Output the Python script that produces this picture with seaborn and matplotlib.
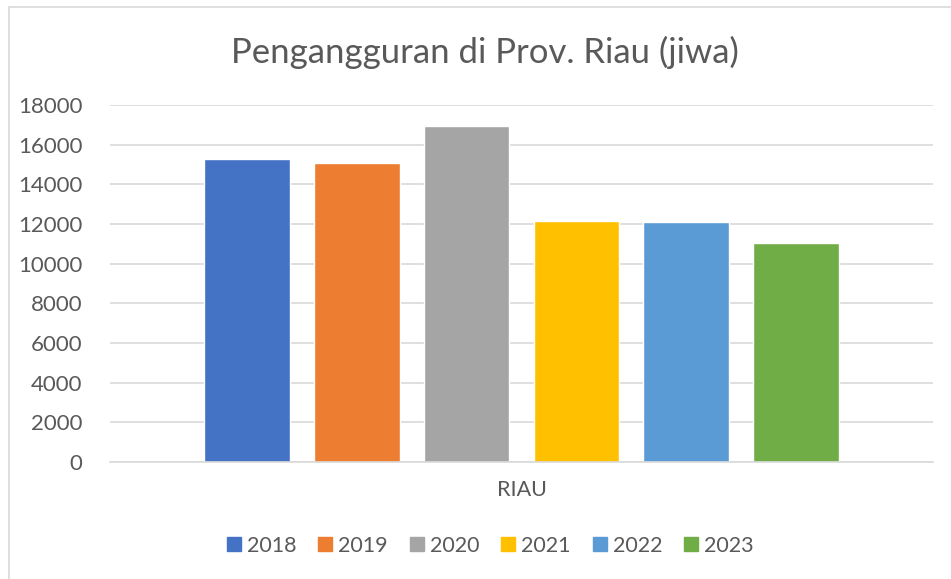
import pandas as pd
import matplotlib.pyplot as plt
import seaborn as sns
from matplotlib.lines import Line2D

sns.set_style("white")
plt.rcParams["font.family"] = ["Lato", "DejaVu Sans"]

region = ["RIAU"]
years = ["2018", "2019", "2020", "2021", "2022", "2023"]
values = [15300, 15070, 16950, 12130, 12080, 11020]
colors = ["#4472C4", "#ED7D31", "#A5A5A5", "#FFC000", "#5B9BD5", "#70AD47"]
yticks = list(range(0, 18001, 2000))

df = pd.DataFrame({"wilayah": region * len(years), "tahun": years, "jiwa": values})

text_col = "#595959"
grid_col = "#D9D9D9"

fig = plt.figure(figsize=(9.51, 5.79), dpi=100)
ax = fig.add_axes([110 / 951, 1 - 462 / 579, (933 - 110) / 951, (462 - 105) / 579])

sns.barplot(data=df, x="wilayah", y="jiwa", hue="tahun", palette=colors,
            width=0.8, gap=0.22, ax=ax, legend=False, saturation=1)

ax.set_xlim(-0.5, 0.5)
ax.set_ylim(0, 18000)
ax.set_yticks(yticks)
ax.yaxis.grid(True, color=grid_col, linewidth=1.2)
ax.set_axisbelow(True)
for s in ["top", "right", "left"]:
    ax.spines[s].set_visible(False)
ax.spines["bottom"].set_color(grid_col)
ax.spines["bottom"].set_linewidth(1.2)
ax.set_xlabel("")
ax.set_ylabel("")
ax.tick_params(axis="y", length=0, pad=20, labelsize=16, labelcolor=text_col)
ax.tick_params(axis="x", length=0, pad=13, labelsize=15.5, labelcolor=text_col)

fig.text(485 / 951, 1 - 52 / 579, "Pengangguran di Prov. Riau (jiwa)",
         ha="center", va="center", fontsize=25, color=text_col)

handles = [Line2D([0], [0], marker="s", linestyle="", markersize=10,
                  markerfacecolor=c, markeredgecolor=c) for c in colors]
fig.legend(handles, years, loc="center", bbox_to_anchor=(490 / 951, 1 - 546 / 579),
           ncol=6, frameon=False, fontsize=15.5, labelcolor=text_col,
           handletextpad=0.25, columnspacing=1.0, handlelength=0.7)

# chart area border (Excel style)
fig.add_artist(Line2D([9 / 951, 9 / 951], [0, 1 - 7 / 579], transform=fig.transFigure,
                      color=grid_col, linewidth=1.2))
fig.add_artist(Line2D([9 / 951, 1], [1 - 7 / 579, 1 - 7 / 579], transform=fig.transFigure,
                      color=grid_col, linewidth=1.2))

fig.savefig("out.png", dpi=100)
